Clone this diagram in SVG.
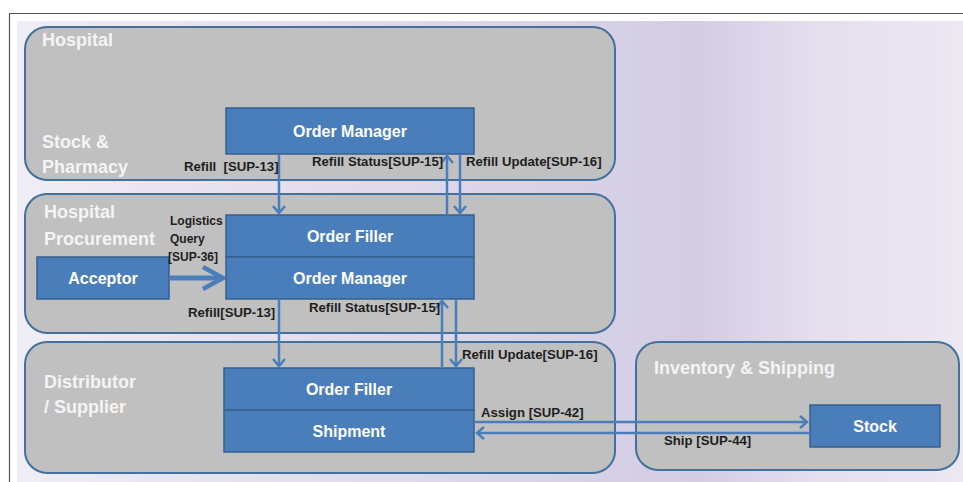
<svg xmlns="http://www.w3.org/2000/svg" width="963" height="482" viewBox="0 0 963 482">
<defs>
<linearGradient id="bg" x1="0" y1="0" x2="1" y2="0">
<stop offset="0" stop-color="#efedf5"/>
<stop offset="0.45" stop-color="#dcd7ea"/>
<stop offset="0.72" stop-color="#d3cde4"/>
<stop offset="0.85" stop-color="#e4e0ee"/>
<stop offset="1" stop-color="#ebe8f2"/>
</linearGradient>
<marker id="ah" viewBox="-9 -8 11 16" refX="0" refY="0" markerWidth="11" markerHeight="16" markerUnits="userSpaceOnUse" orient="auto">
<path d="M-7,-6 L0,0 L-7,6" fill="none" stroke="#4a7ebb" stroke-width="2.5" stroke-linejoin="miter"/>
</marker>
<marker id="ahBig" viewBox="-24 -14 26 28" refX="0" refY="0" markerWidth="26" markerHeight="28" markerUnits="userSpaceOnUse" orient="auto">
<path d="M-20,-11 L0,0 L-20,11" fill="none" stroke="#4a7ebb" stroke-width="4.5" stroke-linejoin="miter"/>
</marker>
</defs>
<style>
.zone{fill:#c0c0c0;stroke:#41719c;stroke-width:2}
.box{fill:#4a7ebb;stroke:#36608f;stroke-width:1.5}
.title{font-family:"Liberation Sans",Arial,sans-serif;font-size:18px;font-weight:bold;fill:#f4f4f4}
.bt{font-family:"Liberation Sans",Arial,sans-serif;font-size:16px;font-weight:bold;fill:#ffffff;text-anchor:middle}
.lbl{font-family:"Liberation Sans",Arial,sans-serif;font-size:13.2px;font-weight:bold;fill:#1e1e1e;white-space:pre}
.lbs{font-family:"Liberation Sans",Arial,sans-serif;font-size:12px;font-weight:bold;fill:#1e1e1e}
.c{fill:none;stroke:#4a7ebb;stroke-width:2.5}
</style>
<rect x="0" y="0" width="963" height="482" fill="#ffffff"/>
<rect x="17" y="21" width="946" height="461" fill="url(#bg)"/>
<path d="M9.5,482 L9.5,13.5 L963,13.5" fill="none" stroke="#555555" stroke-width="1.2"/>

<g id="hospital">
<rect class="zone" x="25" y="27" width="590" height="153" rx="22"/>
<text class="title" x="42" y="46">Hospital</text>
<text class="title" x="42" y="148">Stock &amp;</text>
<text class="title" x="42" y="173">Pharmacy</text>
</g>
<g id="procurement">
<rect class="zone" x="25" y="194" width="590" height="139" rx="22"/>
<text class="title" x="44" y="218">Hospital</text>
<text class="title" x="44" y="245">Procurement</text>
</g>
<g id="distributor">
<rect class="zone" x="25" y="342" width="590" height="131" rx="22"/>
<text class="title" x="44" y="388">Distributor</text>
<text class="title" x="44" y="413">/ Supplier</text>
</g>
<g id="inventory">
<rect class="zone" x="636" y="342" width="323" height="128" rx="22"/>
<text class="title" x="654" y="374">Inventory &amp; Shipping</text>
</g>

<g id="om-hospital">
<rect class="box" x="226" y="108" width="248" height="46"/>
<text class="bt" x="350" y="137">Order Manager</text>
</g>
<g id="of-procurement">
<rect class="box" x="226" y="215" width="248" height="42"/>
<text class="bt" x="350" y="242">Order Filler</text>
</g>
<g id="om-procurement">
<rect class="box" x="226" y="257" width="248" height="42"/>
<text class="bt" x="350" y="284">Order Manager</text>
</g>
<g id="acceptor">
<rect class="box" x="37" y="257" width="132" height="42"/>
<text class="bt" x="103" y="284">Acceptor</text>
</g>
<g id="of-distributor">
<rect class="box" x="224" y="368" width="250" height="42"/>
<text class="bt" x="349" y="395">Order Filler</text>
</g>
<g id="shipment">
<rect class="box" x="224" y="410" width="250" height="42"/>
<text class="bt" x="349" y="437">Shipment</text>
</g>
<g id="stock">
<rect class="box" x="810" y="405" width="130" height="42"/>
<text class="bt" x="875" y="432">Stock</text>
</g>

<g id="connectors">
<line class="c" x1="279" y1="155" x2="279" y2="213" marker-end="url(#ah)"/>
<line class="c" x1="447" y1="215" x2="447" y2="156" marker-end="url(#ah)"/>
<line class="c" x1="460" y1="155" x2="460" y2="213" marker-end="url(#ah)"/>
<line x1="170" y1="278" x2="223" y2="278" fill="none" stroke="#4a7ebb" stroke-width="5" marker-end="url(#ahBig)"/>
<line class="c" x1="279" y1="300" x2="279" y2="366" marker-end="url(#ah)"/>
<line class="c" x1="442" y1="368" x2="442" y2="301" marker-end="url(#ah)"/>
<line class="c" x1="456" y1="300" x2="456" y2="366" marker-end="url(#ah)"/>
<line class="c" x1="475" y1="422" x2="807" y2="422" marker-end="url(#ah)"/>
<line class="c" x1="810" y1="433" x2="477" y2="433" marker-end="url(#ah)"/>
<text class="lbl" x="184" y="171">Refill  [SUP-13]</text>
<text class="lbl" x="312" y="166">Refill Status[SUP-15]</text>
<text class="lbl" x="466" y="166">Refill Update[SUP-16]</text>
<text class="lbs" x="170" y="225">Logistics</text>
<text class="lbs" x="170" y="243">Query</text>
<text class="lbs" x="168" y="261">[SUP-36]</text>
<text class="lbl" x="188" y="317">Refill[SUP-13]</text>
<text class="lbl" x="309" y="312">Refill Status[SUP-15]</text>
<text class="lbl" x="462" y="359">Refill Update[SUP-16]</text>
<text class="lbl" x="481" y="417">Assign [SUP-42]</text>
<text class="lbl" x="664" y="445">Ship [SUP-44]</text>
</g>
</svg>
